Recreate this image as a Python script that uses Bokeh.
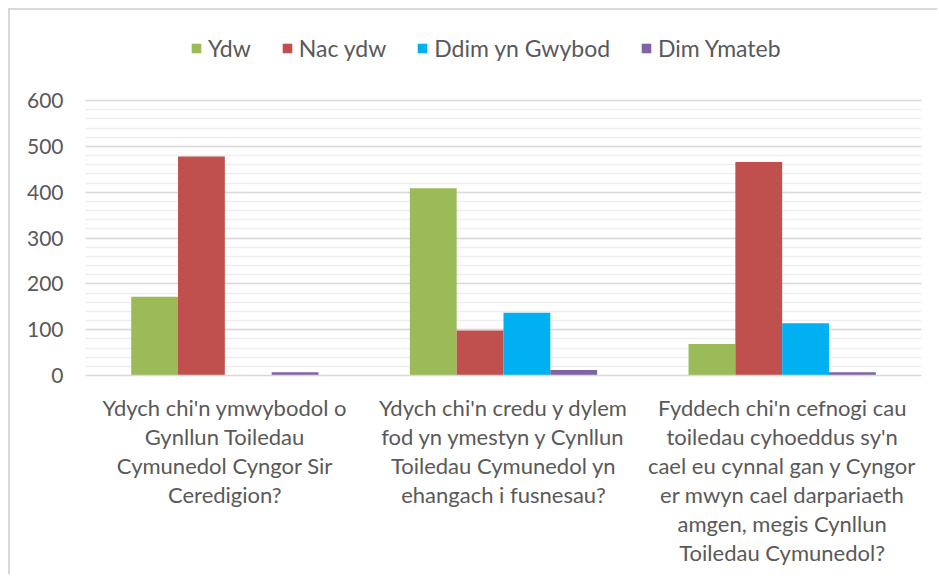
from bokeh.plotting import figure
from bokeh.models import FactorRange, Range1d, Legend, FixedTicker
from bokeh.transform import dodge
from bokeh.embed import file_html
from bokeh.resources import INLINE

categories = [
    "Ydych chi'n ymwybodol o\nGynllun Toiledau\nCymunedol Cyngor Sir\nCeredigion?",
    "Ydych chi'n credu y dylem\nfod yn ymestyn y Cynllun\nToiledau Cymunedol yn\nehangach i fusnesau?",
    "Fyddech chi'n cefnogi cau\ntoiledau cyhoeddus sy'n\ncael eu cynnal gan y Cyngor\ner mwyn cael darpariaeth\namgen, megis Cynllun\nToiledau Cymunedol?",
]
series_names = ["Ydw", "Nac ydw", "Ddim yn Gwybod", "Dim Ymateb"]
ydw = [172, 409, 69]
nac_ydw = [478, 98, 466]
ddim_yn_gwybod = [0, 137, 114]
dim_ymateb = [7, 12, 7]
y_ticks = [0, 100, 200, 300, 400, 500, 600]
y_minor_ticks = list(range(0, 601, 20))

colors = ["#9BBB59", "#C0504D", "#00B0F0", "#8064A2"]
FONT = "Lato"
TXT = "#595959"

data = dict(cat=categories, ydw=ydw, nac=nac_ydw, ddim=ddim_yn_gwybod, dim=dim_ymateb)

# frame extends above the 600 line to host the legend; grid/ticks stop at 600
p = figure(width=929, height=566, x_range=FactorRange(*categories), y_range=Range1d(0, 775),
           output_backend="svg", toolbar_location=None,
           min_border_left=75, min_border_right=18, min_border_top=10, min_border_bottom=201)
p.styles = {"margin-left": "8px", "margin-top": "8px",
            "border-left": "2px solid #d9d9d9", "border-top": "2px solid #d9d9d9"}
p.outline_line_color = None
p.background_fill_color = "white"
p.border_fill_color = "white"

offsets = [-0.252, -0.084, 0.084, 0.252]
keys = ["ydw", "nac", "ddim", "dim"]
items = []
for k, off, c, name in zip(keys, offsets, colors, series_names):
    r = p.vbar(x=dodge("cat", off, range=p.x_range), top=k, width=0.168, source=data,
               fill_color=c, line_color=None)
    items.append((name, [r]))

legend = Legend(items=items, orientation="horizontal", location=(105, 313))
legend.label_text_font = FONT
legend.label_text_font_size = "23px"
legend.label_text_color = TXT
legend.glyph_width = 12
legend.glyph_height = 12
legend.spacing = 30
legend.label_standoff = 6
legend.border_line_color = None
legend.background_fill_alpha = 0
legend.padding = 0
legend.margin = 0
p.add_layout(legend, "center")

p.yaxis.ticker = FixedTicker(ticks=y_ticks, minor_ticks=y_minor_ticks)
p.yaxis.axis_line_color = None
p.yaxis.major_tick_line_color = None
p.yaxis.minor_tick_line_color = None
p.yaxis.major_label_text_font = FONT
p.yaxis.major_label_text_font_size = "21px"
p.yaxis.major_label_text_color = TXT
p.yaxis.major_label_standoff = 16

p.xaxis.axis_line_color = "#d9d9d9"
p.xaxis.axis_line_width = 1.5
p.xaxis.major_tick_line_color = None
p.xaxis.minor_tick_line_color = None
p.xaxis.major_label_text_font = FONT
p.xaxis.major_label_text_font_size = "22px"
p.xaxis.major_label_text_color = TXT
p.xaxis.major_label_standoff = 12
p.xaxis.major_label_text_line_height = 1.075

p.xgrid.grid_line_color = None
p.ygrid.grid_line_color = "#d9d9d9"
p.ygrid.grid_line_width = 1.5
p.ygrid.minor_grid_line_color = "#eeeeee"
p.ygrid.minor_grid_line_width = 1.5

open("out.html", "w").write(file_html(p, INLINE))
